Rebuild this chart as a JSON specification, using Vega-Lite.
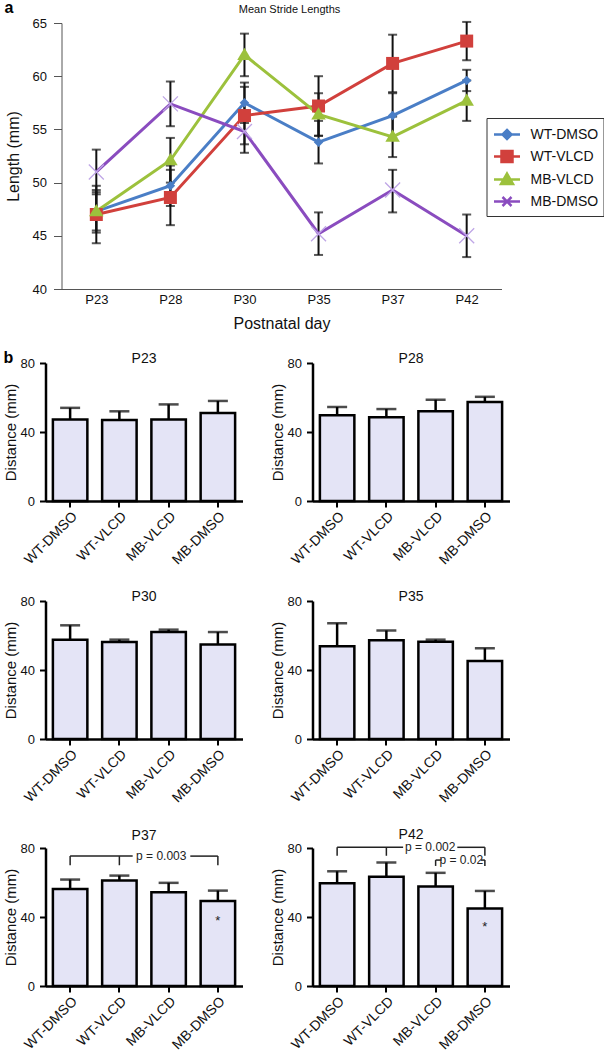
{
"$schema": "https://vega.github.io/schema/vega-lite/v6.json",
"background": "white",
"padding": {"left": 2.5, "top": 0, "right": 0, "bottom": 0},
"config": {
  "font": "Liberation Sans",
  "view": {"stroke": null},
  "axis": {"grid": false, "labelFont": "Liberation Sans", "titleFont": "Liberation Sans", "titleFontWeight": "normal", "labelColor": "#111", "titleColor": "#111"},
  "title": {"font": "Liberation Sans", "fontWeight": "normal", "color": "#111"},
  "legend": {"labelFont": "Liberation Sans"}
},
"datasets": {
  "stride": [
    {"day": "P23", "group": "WT-DMSO", "mean": 47.3, "lo": 45.3, "hi": 49.3},
    {"day": "P28", "group": "WT-DMSO", "mean": 49.7, "lo": 47.8, "hi": 51.6},
    {"day": "P30", "group": "WT-DMSO", "mean": 57.5, "lo": 55.6, "hi": 59.4},
    {"day": "P35", "group": "WT-DMSO", "mean": 53.8, "lo": 51.8, "hi": 55.8},
    {"day": "P37", "group": "WT-DMSO", "mean": 56.3, "lo": 54.2, "hi": 58.4},
    {"day": "P42", "group": "WT-DMSO", "mean": 59.6, "lo": 58.6, "hi": 60.6},
    {"day": "P23", "group": "WT-VLCD", "mean": 47.0, "lo": 44.3, "hi": 49.7},
    {"day": "P28", "group": "WT-VLCD", "mean": 48.6, "lo": 46.0, "hi": 51.2},
    {"day": "P30", "group": "WT-VLCD", "mean": 56.3, "lo": 53.6, "hi": 59.0},
    {"day": "P35", "group": "WT-VLCD", "mean": 57.2, "lo": 54.4, "hi": 60.0},
    {"day": "P37", "group": "WT-VLCD", "mean": 61.2, "lo": 58.5, "hi": 63.9},
    {"day": "P42", "group": "WT-VLCD", "mean": 63.3, "lo": 61.5, "hi": 65.1},
    {"day": "P23", "group": "MB-VLCD", "mean": 47.3, "lo": 45.5, "hi": 49.1},
    {"day": "P28", "group": "MB-VLCD", "mean": 52.1, "lo": 50.0, "hi": 54.2},
    {"day": "P30", "group": "MB-VLCD", "mean": 62.0, "lo": 60.0, "hi": 64.0},
    {"day": "P35", "group": "MB-VLCD", "mean": 56.4, "lo": 54.4, "hi": 58.4},
    {"day": "P37", "group": "MB-VLCD", "mean": 54.3, "lo": 52.4, "hi": 56.2},
    {"day": "P42", "group": "MB-VLCD", "mean": 57.7, "lo": 55.8, "hi": 59.6},
    {"day": "P23", "group": "MB-DMSO", "mean": 51.0, "lo": 48.9, "hi": 53.1},
    {"day": "P28", "group": "MB-DMSO", "mean": 57.4, "lo": 55.3, "hi": 59.5},
    {"day": "P30", "group": "MB-DMSO", "mean": 54.8, "lo": 52.8, "hi": 56.8},
    {"day": "P35", "group": "MB-DMSO", "mean": 45.2, "lo": 43.2, "hi": 47.2},
    {"day": "P37", "group": "MB-DMSO", "mean": 49.3, "lo": 47.2, "hi": 51.2},
    {"day": "P42", "group": "MB-DMSO", "mean": 45.0, "lo": 43.0, "hi": 47.0}
  ],
  "bars": [
    {"day": "P23", "group": "WT-DMSO", "mean": 47.3, "top": 54.0},
    {"day": "P23", "group": "WT-VLCD", "mean": 47.0, "top": 52.0},
    {"day": "P23", "group": "MB-VLCD", "mean": 47.3, "top": 56.0},
    {"day": "P23", "group": "MB-DMSO", "mean": 51.0, "top": 58.0},
    {"day": "P28", "group": "WT-DMSO", "mean": 49.7, "top": 54.5},
    {"day": "P28", "group": "WT-VLCD", "mean": 48.6, "top": 53.3},
    {"day": "P28", "group": "MB-VLCD", "mean": 52.1, "top": 58.7},
    {"day": "P28", "group": "MB-DMSO", "mean": 57.4, "top": 60.4},
    {"day": "P30", "group": "WT-DMSO", "mean": 57.5, "top": 65.9},
    {"day": "P30", "group": "WT-VLCD", "mean": 56.3, "top": 57.6},
    {"day": "P30", "group": "MB-VLCD", "mean": 62.0, "top": 63.4},
    {"day": "P30", "group": "MB-DMSO", "mean": 54.8, "top": 62.0},
    {"day": "P35", "group": "WT-DMSO", "mean": 53.8, "top": 67.1},
    {"day": "P35", "group": "WT-VLCD", "mean": 57.2, "top": 62.9},
    {"day": "P35", "group": "MB-VLCD", "mean": 56.4, "top": 57.6},
    {"day": "P35", "group": "MB-DMSO", "mean": 45.2, "top": 52.6},
    {"day": "P37", "group": "WT-DMSO", "mean": 56.3, "top": 61.7},
    {"day": "P37", "group": "WT-VLCD", "mean": 61.2, "top": 64.0},
    {"day": "P37", "group": "MB-VLCD", "mean": 54.3, "top": 59.8},
    {"day": "P37", "group": "MB-DMSO", "mean": 49.3, "top": 55.3},
    {"day": "P42", "group": "WT-DMSO", "mean": 59.6, "top": 66.5},
    {"day": "P42", "group": "WT-VLCD", "mean": 63.3, "top": 71.6},
    {"day": "P42", "group": "MB-VLCD", "mean": 57.7, "top": 65.6},
    {"day": "P42", "group": "MB-DMSO", "mean": 45.0, "top": 55.1}
  ],
  "stars": [
    {"day": "P37", "group": "MB-DMSO", "y": 37.5, "label": "*"},
    {"day": "P42", "group": "MB-DMSO", "y": 34.0, "label": "*"}
  ],
  "brackets": [
    {"day": "P37", "x": 0.5, "x2": 0.5, "y": 70.0, "y2": 75.3},
    {"day": "P37", "x": 0.5, "x2": 1.77, "y": 75.3, "y2": 75.3},
    {"day": "P37", "x": 2.94, "x2": 3.5, "y": 75.3, "y2": 75.3},
    {"day": "P37", "x": 3.5, "x2": 3.5, "y": 70.0, "y2": 75.3},
    {"day": "P37", "x": 1.5, "x2": 1.5, "y": 70.0, "y2": 75.3},
    {"day": "P42", "x": 0.5, "x2": 0.5, "y": 75.5, "y2": 80.4},
    {"day": "P42", "x": 0.5, "x2": 1.84, "y": 80.4, "y2": 80.4},
    {"day": "P42", "x": 2.94, "x2": 3.5, "y": 80.4, "y2": 80.4},
    {"day": "P42", "x": 3.5, "x2": 3.5, "y": 75.5, "y2": 80.4},
    {"day": "P42", "x": 1.5, "x2": 1.5, "y": 75.5, "y2": 80.4},
    {"day": "P42", "x": 2.5, "x2": 2.5, "y": 69.6, "y2": 73.0},
    {"day": "P42", "x": 2.5, "x2": 2.62, "y": 73.0, "y2": 73.0},
    {"day": "P42", "x": 3.42, "x2": 3.5, "y": 73.0, "y2": 73.0},
    {"day": "P42", "x": 3.5, "x2": 3.5, "y": 69.6, "y2": 73.0}
  ],
  "pvals": [
    {"day": "P37", "x": 2.35, "y": 75.3, "label": "p = 0.003"},
    {"day": "P42", "x": 2.39, "y": 80.4, "label": "p = 0.002"},
    {"day": "P42", "x": 3.02, "y": 73.0, "label": "p = 0.02"}
  ]
},
"align": "none",
"bounds": "full",
"spacing": 19,
"vconcat": [
  {
    "title": {"text": "a", "anchor": "start", "frame": "group", "dx": -41, "offset": -12, "fontSize": 16, "fontWeight": "bold", "color": "#000"},
    "vconcat": [
      {
        "width": 456, "height": 266,
        "title": {"text": "Mean Stride Lengths", "fontSize": 11, "frame": "group", "anchor": "middle", "dx": 16, "offset": 2},
        "data": {"name": "stride"},
        "encoding": {
          "x": {"field": "day", "type": "ordinal", "scale": {"type": "point", "padding": 0.47, "range": [16, 456]},
                "axis": {"title": "Postnatal day", "labelAngle": 0, "labelFontSize": 13, "titleFontSize": 16, "ticks": false, "labelPadding": 4, "titlePadding": 9, "domainColor": "#555"}}
        },
        "layer": [
          {"mark": {"type": "rule", "color": "#111", "strokeWidth": 2},
           "encoding": {"y": {"field": "lo", "type": "quantitative", "title": "Length (mm)", "scale": {"domain": [40, 65], "nice": false, "zero": false},
                              "axis": {"values": [40, 45, 50, 55, 60, 65], "offset": -16, "titleFontSize": 16, "labelFontSize": 13, "tickSize": 8, "labelPadding": 7, "titlePadding": 11, "domainColor": "#555", "tickColor": "#555"}},
                        "y2": {"field": "hi"}}},
          {"mark": {"type": "tick", "color": "#111", "size": 9, "thickness": 2},
           "encoding": {"y": {"field": "lo", "type": "quantitative", "title": "Length (mm)", "scale": {"domain": [40, 65], "nice": false, "zero": false}}}},
          {"mark": {"type": "tick", "color": "#111", "size": 9, "thickness": 2},
           "encoding": {"y": {"field": "hi", "type": "quantitative", "title": "Length (mm)", "scale": {"domain": [40, 65], "nice": false, "zero": false}}}},
          {"mark": {"type": "line", "strokeWidth": 3},
           "encoding": {
             "y": {"field": "mean", "type": "quantitative", "title": "Length (mm)", "scale": {"domain": [40, 65], "nice": false, "zero": false}},
             "color": {"field": "group", "type": "nominal",
                       "scale": {"domain": ["WT-DMSO", "WT-VLCD", "MB-VLCD", "MB-DMSO"], "range": ["#4a7ec6", "#d1403c", "#9cc13c", "#8a4cbf"]},
                       "legend": {"orient": "none", "legendX": 441, "legendY": 95, "title": null, "labelFontSize": 14, "labelColor": "#111",
                                  "symbolSize": 400, "symbolOffset": 4, "labelOffset": 12, "rowPadding": 1, "padding": 5,
                                  "strokeColor": "#333", "fillColor": "white",
                                  "encode": {"symbols": {"update": {
                                    "shape": {"signal": "datum.value === 'WT-DMSO' ? 'M-1.3,0L1.3,0M0,-0.45L0.45,0L0,0.45L-0.45,0Z' : datum.value === 'WT-VLCD' ? 'M-1.3,0L1.3,0M-0.55,-0.55L0.55,-0.55L0.55,0.55L-0.55,0.55Z' : datum.value === 'MB-VLCD' ? 'M-1.3,0L1.3,0M0,-0.6L0.6,0.45L-0.6,0.45Z' : 'M-1.3,0L1.3,0M-0.45,-0.45L0.45,0.45M-0.45,0.45L0.45,-0.45'"},
                                    "fill": {"signal": "datum.value === 'WT-DMSO' ? '#4a7ec6' : datum.value === 'WT-VLCD' ? '#d1403c' : datum.value === 'MB-VLCD' ? '#9cc13c' : 'transparent'"},
                                    "stroke": {"signal": "datum.value === 'WT-DMSO' ? '#4a7ec6' : datum.value === 'WT-VLCD' ? '#d1403c' : datum.value === 'MB-VLCD' ? '#9cc13c' : '#8a4cbf'"},
                                    "strokeWidth": {"value": 2.5},
                                    "opacity": {"value": 1}
                                  }}}}}
           }},
          {"transform": [{"filter": "datum.group === 'WT-DMSO'"}],
           "mark": {"type": "point", "shape": "M0,-0.95L0.95,0L0,0.95L-0.95,0Z", "filled": true, "size": 100, "color": "#4a7ec6", "opacity": 1},
           "encoding": {"y": {"field": "mean", "type": "quantitative", "title": "Length (mm)", "scale": {"domain": [40, 65], "nice": false, "zero": false}}}},
          {"transform": [{"filter": "datum.group === 'WT-VLCD'"}],
           "mark": {"type": "point", "shape": "M-1.3,-1.3L1.3,-1.3L1.3,1.3L-1.3,1.3Z", "filled": true, "size": 100, "color": "#d1403c", "opacity": 1},
           "encoding": {"y": {"field": "mean", "type": "quantitative", "title": "Length (mm)", "scale": {"domain": [40, 65], "nice": false, "zero": false}}}},
          {"transform": [{"filter": "datum.group === 'MB-VLCD'"}],
           "mark": {"type": "point", "shape": "M0,-1.45L1.45,1.0L-1.45,1.0Z", "filled": true, "size": 100, "color": "#9cc13c", "opacity": 1},
           "encoding": {"y": {"field": "mean", "type": "quantitative", "title": "Length (mm)", "scale": {"domain": [40, 65], "nice": false, "zero": false}}}},
          {"transform": [{"filter": "datum.group === 'MB-DMSO'"}],
           "mark": {"type": "point", "shape": "M-1.5,-1.5L1.5,1.5M-1.5,1.5L1.5,-1.5", "filled": false, "size": 100, "color": "#bfa6e6", "strokeWidth": 1.3, "opacity": 1},
           "encoding": {"y": {"field": "mean", "type": "quantitative", "title": "Length (mm)", "scale": {"domain": [40, 65], "nice": false, "zero": false}}}}
        ]
      }
    ]
  },
  {
    "align": "none",
    "bounds": "full",
    "spacing": 23,
    "vconcat": [
      {
        "title": {"text": "b", "anchor": "start", "frame": "group", "dx": -42, "offset": -14, "fontSize": 16, "fontWeight": "bold", "color": "#000"},
        "spacing": 27,
        "hconcat": [
          {
            "width": 197, "height": 138,
            "title": {"text": "P23", "fontSize": 14, "frame": "group", "offset": -9},
            "data": {"name": "bars"},
            "transform": [{"filter": "datum.day === 'P23'"}],
            "encoding": {"x": {"field": "group", "type": "nominal", "sort": ["WT-DMSO", "WT-VLCD", "MB-VLCD", "MB-DMSO"], "title": null, "scale": {"paddingInner": 0.3, "paddingOuter": 0.15}, "axis": {"labelAngle": -45, "labelFontSize": 14, "tickSize": 6, "tickWidth": 2, "domainWidth": 2.5, "domainColor": "#000", "tickColor": "#000", "labelPadding": 2}}},
            "layer": [
              {"mark": {"type": "bar", "fill": "#e4e4f6", "stroke": "#000", "strokeWidth": 2.5},
               "encoding": {"y": {"field": "mean", "type": "quantitative", "title": "Distance (mm)", "scale": {"domain": [0, 80]}, "axis": {"values": [0, 20, 40, 60, 80], "labelFontSize": 13, "titleFontSize": 15, "tickSize": 6, "tickWidth": 2, "domainWidth": 2.5, "domainColor": "#000", "tickColor": "#000", "labelPadding": 5, "titlePadding": 2}}}},
              {"mark": {"type": "rule", "color": "#000", "strokeWidth": 2.5}, "encoding": {"y": {"field": "mean", "type": "quantitative", "title": "Distance (mm)"}, "y2": {"field": "top"}}},
              {"mark": {"type": "tick", "color": "#000", "size": 20, "thickness": 2.5}, "encoding": {"y": {"field": "top", "type": "quantitative", "title": "Distance (mm)"}}}
            ]
          },
          {
            "width": 197, "height": 138,
            "title": {"text": "P28", "fontSize": 14, "frame": "group", "offset": -9},
            "data": {"name": "bars"},
            "transform": [{"filter": "datum.day === 'P28'"}],
            "encoding": {"x": {"field": "group", "type": "nominal", "sort": ["WT-DMSO", "WT-VLCD", "MB-VLCD", "MB-DMSO"], "title": null, "scale": {"paddingInner": 0.3, "paddingOuter": 0.15}, "axis": {"labelAngle": -45, "labelFontSize": 14, "tickSize": 6, "tickWidth": 2, "domainWidth": 2.5, "domainColor": "#000", "tickColor": "#000", "labelPadding": 2}}},
            "layer": [
              {"mark": {"type": "bar", "fill": "#e4e4f6", "stroke": "#000", "strokeWidth": 2.5},
               "encoding": {"y": {"field": "mean", "type": "quantitative", "title": "Distance (mm)", "scale": {"domain": [0, 80]}, "axis": {"values": [0, 20, 40, 60, 80], "labelFontSize": 13, "titleFontSize": 15, "tickSize": 6, "tickWidth": 2, "domainWidth": 2.5, "domainColor": "#000", "tickColor": "#000", "labelPadding": 5, "titlePadding": 2}}}},
              {"mark": {"type": "rule", "color": "#000", "strokeWidth": 2.5}, "encoding": {"y": {"field": "mean", "type": "quantitative", "title": "Distance (mm)"}, "y2": {"field": "top"}}},
              {"mark": {"type": "tick", "color": "#000", "size": 20, "thickness": 2.5}, "encoding": {"y": {"field": "top", "type": "quantitative", "title": "Distance (mm)"}}}
            ]
          }
        ]
      },
      {
        "spacing": 27,
        "hconcat": [
          {
            "width": 197, "height": 138,
            "title": {"text": "P30", "fontSize": 14, "frame": "group", "offset": -9},
            "data": {"name": "bars"},
            "transform": [{"filter": "datum.day === 'P30'"}],
            "encoding": {"x": {"field": "group", "type": "nominal", "sort": ["WT-DMSO", "WT-VLCD", "MB-VLCD", "MB-DMSO"], "title": null, "scale": {"paddingInner": 0.3, "paddingOuter": 0.15}, "axis": {"labelAngle": -45, "labelFontSize": 14, "tickSize": 6, "tickWidth": 2, "domainWidth": 2.5, "domainColor": "#000", "tickColor": "#000", "labelPadding": 2}}},
            "layer": [
              {"mark": {"type": "bar", "fill": "#e4e4f6", "stroke": "#000", "strokeWidth": 2.5},
               "encoding": {"y": {"field": "mean", "type": "quantitative", "title": "Distance (mm)", "scale": {"domain": [0, 80]}, "axis": {"values": [0, 20, 40, 60, 80], "labelFontSize": 13, "titleFontSize": 15, "tickSize": 6, "tickWidth": 2, "domainWidth": 2.5, "domainColor": "#000", "tickColor": "#000", "labelPadding": 5, "titlePadding": 2}}}},
              {"mark": {"type": "rule", "color": "#000", "strokeWidth": 2.5}, "encoding": {"y": {"field": "mean", "type": "quantitative", "title": "Distance (mm)"}, "y2": {"field": "top"}}},
              {"mark": {"type": "tick", "color": "#000", "size": 20, "thickness": 2.5}, "encoding": {"y": {"field": "top", "type": "quantitative", "title": "Distance (mm)"}}}
            ]
          },
          {
            "width": 197, "height": 138,
            "title": {"text": "P35", "fontSize": 14, "frame": "group", "offset": -9},
            "data": {"name": "bars"},
            "transform": [{"filter": "datum.day === 'P35'"}],
            "encoding": {"x": {"field": "group", "type": "nominal", "sort": ["WT-DMSO", "WT-VLCD", "MB-VLCD", "MB-DMSO"], "title": null, "scale": {"paddingInner": 0.3, "paddingOuter": 0.15}, "axis": {"labelAngle": -45, "labelFontSize": 14, "tickSize": 6, "tickWidth": 2, "domainWidth": 2.5, "domainColor": "#000", "tickColor": "#000", "labelPadding": 2}}},
            "layer": [
              {"mark": {"type": "bar", "fill": "#e4e4f6", "stroke": "#000", "strokeWidth": 2.5},
               "encoding": {"y": {"field": "mean", "type": "quantitative", "title": "Distance (mm)", "scale": {"domain": [0, 80]}, "axis": {"values": [0, 20, 40, 60, 80], "labelFontSize": 13, "titleFontSize": 15, "tickSize": 6, "tickWidth": 2, "domainWidth": 2.5, "domainColor": "#000", "tickColor": "#000", "labelPadding": 5, "titlePadding": 2}}}},
              {"mark": {"type": "rule", "color": "#000", "strokeWidth": 2.5}, "encoding": {"y": {"field": "mean", "type": "quantitative", "title": "Distance (mm)"}, "y2": {"field": "top"}}},
              {"mark": {"type": "tick", "color": "#000", "size": 20, "thickness": 2.5}, "encoding": {"y": {"field": "top", "type": "quantitative", "title": "Distance (mm)"}}}
            ]
          }
        ]
      },
      {
        "spacing": 27,
        "hconcat": [
          {
            "width": 197, "height": 138,
            "title": {"text": "P37", "fontSize": 14, "frame": "group", "offset": -1},
            "resolve": {"scale": {"x": "independent"}},
            "layer": [
              {
                "data": {"name": "bars"},
                "transform": [{"filter": "datum.day === 'P37'"}],
                "encoding": {"x": {"field": "group", "type": "nominal", "sort": ["WT-DMSO", "WT-VLCD", "MB-VLCD", "MB-DMSO"], "title": null, "scale": {"paddingInner": 0.3, "paddingOuter": 0.15}, "axis": {"labelAngle": -45, "labelFontSize": 14, "tickSize": 6, "tickWidth": 2, "domainWidth": 2.5, "domainColor": "#000", "tickColor": "#000", "labelPadding": 2}}},
                "layer": [
                  {"mark": {"type": "bar", "fill": "#e4e4f6", "stroke": "#000", "strokeWidth": 2.5},
                   "encoding": {"y": {"field": "mean", "type": "quantitative", "title": "Distance (mm)", "scale": {"domain": [0, 80]}, "axis": {"values": [0, 20, 40, 60, 80], "labelFontSize": 13, "titleFontSize": 15, "tickSize": 6, "tickWidth": 2, "domainWidth": 2.5, "domainColor": "#000", "tickColor": "#000", "labelPadding": 5, "titlePadding": 2}}}},
                  {"mark": {"type": "rule", "color": "#000", "strokeWidth": 2.5}, "encoding": {"y": {"field": "mean", "type": "quantitative", "title": "Distance (mm)"}, "y2": {"field": "top"}}},
                  {"mark": {"type": "tick", "color": "#000", "size": 20, "thickness": 2.5}, "encoding": {"y": {"field": "top", "type": "quantitative", "title": "Distance (mm)"}}},
                  {"data": {"name": "stars"}, "transform": [{"filter": "datum.day === 'P37'"}],
                   "mark": {"type": "text", "fontSize": 13, "color": "#222"},
                   "encoding": {"y": {"field": "y", "type": "quantitative", "title": "Distance (mm)"}, "text": {"field": "label"}}}
                ]
              },
              {"data": {"name": "brackets"}, "transform": [{"filter": "datum.day === 'P37'"}],
               "mark": {"type": "rule", "color": "#222", "strokeWidth": 1.5},
               "encoding": {"x": {"field": "x", "type": "quantitative", "scale": {"domain": [0, 4]}, "axis": null}, "x2": {"field": "x2"},
                            "y": {"field": "y", "type": "quantitative", "title": "Distance (mm)"}, "y2": {"field": "y2"}}},
              {"data": {"name": "pvals"}, "transform": [{"filter": "datum.day === 'P37'"}],
               "mark": {"type": "text", "fontSize": 12, "color": "#222"},
               "encoding": {"x": {"field": "x", "type": "quantitative", "scale": {"domain": [0, 4]}, "axis": null},
                            "y": {"field": "y", "type": "quantitative", "title": "Distance (mm)"}, "text": {"field": "label"}}}
            ]
          },
          {
            "width": 197, "height": 138,
            "title": {"text": "P42", "fontSize": 14, "frame": "group", "offset": -1},
            "resolve": {"scale": {"x": "independent"}},
            "layer": [
              {
                "data": {"name": "bars"},
                "transform": [{"filter": "datum.day === 'P42'"}],
                "encoding": {"x": {"field": "group", "type": "nominal", "sort": ["WT-DMSO", "WT-VLCD", "MB-VLCD", "MB-DMSO"], "title": null, "scale": {"paddingInner": 0.3, "paddingOuter": 0.15}, "axis": {"labelAngle": -45, "labelFontSize": 14, "tickSize": 6, "tickWidth": 2, "domainWidth": 2.5, "domainColor": "#000", "tickColor": "#000", "labelPadding": 2}}},
                "layer": [
                  {"mark": {"type": "bar", "fill": "#e4e4f6", "stroke": "#000", "strokeWidth": 2.5},
                   "encoding": {"y": {"field": "mean", "type": "quantitative", "title": "Distance (mm)", "scale": {"domain": [0, 80]}, "axis": {"values": [0, 20, 40, 60, 80], "labelFontSize": 13, "titleFontSize": 15, "tickSize": 6, "tickWidth": 2, "domainWidth": 2.5, "domainColor": "#000", "tickColor": "#000", "labelPadding": 5, "titlePadding": 2}}}},
                  {"mark": {"type": "rule", "color": "#000", "strokeWidth": 2.5}, "encoding": {"y": {"field": "mean", "type": "quantitative", "title": "Distance (mm)"}, "y2": {"field": "top"}}},
                  {"mark": {"type": "tick", "color": "#000", "size": 20, "thickness": 2.5}, "encoding": {"y": {"field": "top", "type": "quantitative", "title": "Distance (mm)"}}},
                  {"data": {"name": "stars"}, "transform": [{"filter": "datum.day === 'P42'"}],
                   "mark": {"type": "text", "fontSize": 13, "color": "#222"},
                   "encoding": {"y": {"field": "y", "type": "quantitative", "title": "Distance (mm)"}, "text": {"field": "label"}}}
                ]
              },
              {"data": {"name": "brackets"}, "transform": [{"filter": "datum.day === 'P42'"}],
               "mark": {"type": "rule", "color": "#222", "strokeWidth": 1.5},
               "encoding": {"x": {"field": "x", "type": "quantitative", "scale": {"domain": [0, 4]}, "axis": null}, "x2": {"field": "x2"},
                            "y": {"field": "y", "type": "quantitative", "title": "Distance (mm)"}, "y2": {"field": "y2"}}},
              {"data": {"name": "pvals"}, "transform": [{"filter": "datum.day === 'P42'"}],
               "mark": {"type": "text", "fontSize": 12, "color": "#222"},
               "encoding": {"x": {"field": "x", "type": "quantitative", "scale": {"domain": [0, 4]}, "axis": null},
                            "y": {"field": "y", "type": "quantitative", "title": "Distance (mm)"}, "text": {"field": "label"}}}
            ]
          }
        ]
      }
    ]
  }
]
}
